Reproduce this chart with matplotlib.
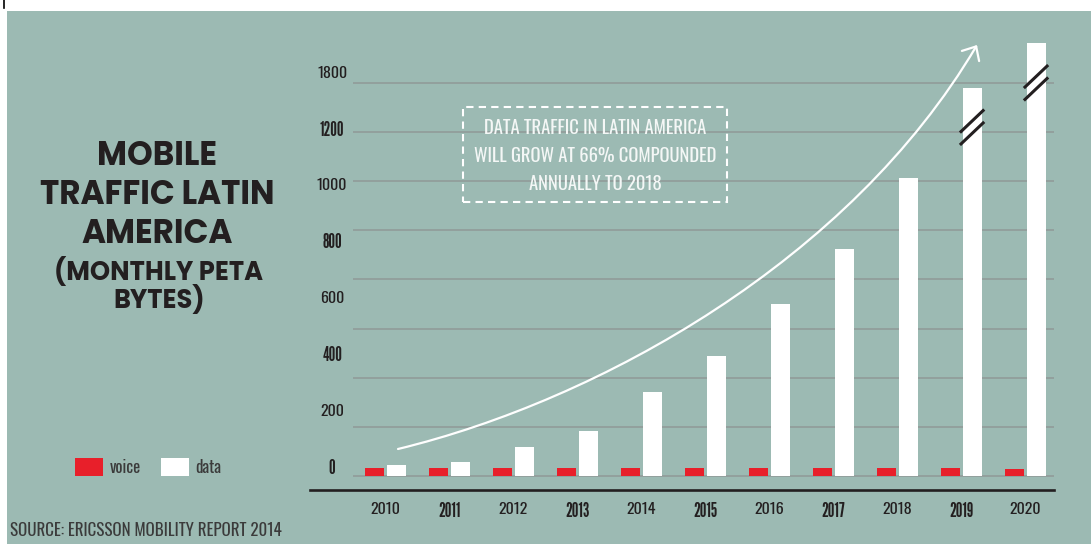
"""Mobile traffic Latin America — voice vs data bar infographic."""
import matplotlib

matplotlib.use("Agg")
import matplotlib.pyplot as plt
import numpy as np
from matplotlib.lines import Line2D
from matplotlib.patches import FancyArrowPatch, Rectangle
from matplotlib.path import Path

# --------------------------------------------------------------------------- #
# Data (monthly petabytes)
# --------------------------------------------------------------------------- #
years = ["2010", "2011", "2012", "2013", "2014", "2015",
         "2016", "2017", "2018", "2019", "2020"]
bold_years = ["2011", "2013", "2015", "2017", "2019"]
voice = [30, 30, 30, 30, 30, 30, 30, 30, 30, 30, 26]
data = [40, 50, 103, 162, 300, 428, 611, 806, 1061, 1380, 1538]
broken_years = ["2019", "2020"]
ytick_labels = ["0", "200", "400", "600", "800", "1000", "1200", "1800"]
bold_yticks = ["0", "400", "800", "1200"]

BG = "#9cbab3"
RED = "#e81f2a"
DARK = "#231f20"
GREY_TXT = "#3b3b3b"
GRID = "#8f9997"
NARROW = ["Oswald", "DejaVu Sans"]
NARROW_BOLD = ["League Gothic", "Oswald", "DejaVu Sans"]
HEAVY = ["Poppins", "DejaVu Sans"]

W, H = 1091, 544


def fx(x):
    return x / W


def fy(y):
    return 1 - y / H


def style_tick(t, bold_set):
    if t.get_text() in bold_set:
        t.set_family(NARROW_BOLD)
        t.set_fontsize(13.5)
    else:
        t.set_family(NARROW)
        t.set_fontsize(11.5)


fig = plt.figure(figsize=(W / 100, H / 100), dpi=100, facecolor="white")
fig.patches.append(Rectangle((fx(7), 0), 1 - fx(7), fy(11), transform=fig.transFigure,
                             facecolor=BG, edgecolor="none", zorder=-5))
fig.lines.append(Line2D([fx(4), fx(4)], [fy(0), fy(8)], transform=fig.transFigure,
                        color="black", lw=1.2))

ax = fig.add_axes([fx(353), fy(480), fx(1054) - fx(353), fy(30) - fy(480)])
ax.set_facecolor("none")
for s in ax.spines.values():
    s.set_visible(False)

x = np.arange(len(years))
off, width = 0.172, 0.297
ax.bar(x - off, voice, width, color=RED, zorder=3, label="voice")
ax.bar(x + off, data, width, color="white", zorder=3, label="data")

# gridlines (evenly spaced, not tied to the printed labels)
grid_step = 174.8
for k in range(9):
    ax.axhline(k * grid_step, color=GRID, lw=1.1, zorder=1)

ax.set_xlim(-0.508, 10.453)
ax.set_ylim(-13.1, 1585.4)

ax.set_xticks(x)
ax.set_xticklabels(years, color=DARK)
for t in ax.get_xticklabels():
    style_tick(t, bold_years)
ax.tick_params(axis="x", length=0, pad=16)

label_offset = 36.6
ax.set_yticks([i * 200 + label_offset for i in range(len(ytick_labels))])
ax.set_yticklabels(ytick_labels, color=DARK, ha="center")
for t in ax.get_yticklabels():
    style_tick(t, bold_yticks)
ax.tick_params(axis="y", length=0, pad=15)

# axis-break slashes on the tallest bars
for yr in broken_years:
    i = years.index(yr)
    cy = data[i] - 140
    for d in (-22, 22):
        ax.plot([i + off - 0.19, i + off + 0.19], [cy + d - 41, cy + d + 41],
                color=DARK, lw=2.2, solid_capstyle="butt", zorder=4)

# baseline rule below the bars
fig.lines.append(Line2D([fx(310), fx(1054)], [fy(490), fy(490)], transform=fig.transFigure,
                        color=DARK, lw=1.9))

# growth arrow
verts = [(398, 449), (600, 400), (850, 260), (977, 45)]
path = Path([(fx(a), fy(b)) for a, b in verts],
            [Path.MOVETO, Path.CURVE4, Path.CURVE4, Path.CURVE4])
arrow = FancyArrowPatch(path=path, arrowstyle="->,head_length=0.8,head_width=0.72",
                        mutation_scale=10, color="white", lw=1.6,
                        transform=fig.transFigure, zorder=5)
fig.patches.append(arrow)

# dashed call-out box
fig.patches.append(Rectangle((fx(463), fy(202)), fx(727) - fx(463), fy(107) - fy(202),
                             transform=fig.transFigure, facecolor="none", edgecolor="white",
                             lw=1.5, linestyle=(0, (3.5, 2.5)), zorder=5))
for line, yy in zip(["DATA TRAFFIC IN LATIN AMERICA", "WILL GROW AT 66% COMPOUNDED",
                     "ANNUALLY TO 2018"], [128, 156, 184]):
    fig.text(fx(595), fy(yy), line, ha="center", va="center", family=NARROW,
             fontsize=13.4, color="#f4f7f6")

# title block
for line, yy in [("MOBILE", 165), ("TRAFFIC LATIN", 204), ("AMERICA", 242.7)]:
    fig.text(fx(157), fy(yy), line, ha="center", va="baseline", fontsize=23.5,
             fontweight="bold", color=DARK, family=HEAVY)
fig.text(fx(159), fy(286), "(MONTHLY PETA\nBYTES)", ha="center", va="center",
         multialignment="center", linespacing=0.95, fontsize=18.5,
         fontweight="bold", color=DARK, family=HEAVY)

# legend
leg = ax.legend(loc="center left", bbox_to_anchor=(fx(75), fy(467)),
                bbox_transform=fig.transFigure, ncol=2, frameon=False,
                prop={"family": NARROW, "size": 12}, handlelength=1.7, handleheight=1.3,
                handletextpad=0.38, columnspacing=1.2, borderpad=0, borderaxespad=0)
for t in leg.get_texts():
    t.set_color(GREY_TXT)

fig.text(fx(10), fy(531), "SOURCE: ERICSSON MOBILITY REPORT 2014", ha="left", va="center",
         family=NARROW, fontsize=12.2, color=GREY_TXT)

fig.savefig("out.png", dpi=100, facecolor=fig.get_facecolor())
